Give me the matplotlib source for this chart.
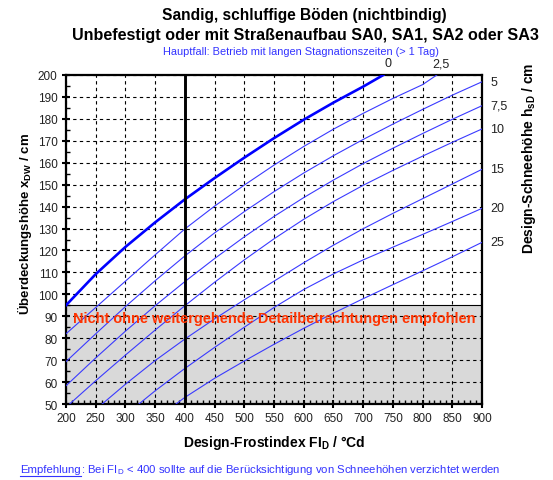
import matplotlib
matplotlib.use("Agg")
import matplotlib.pyplot as plt
from matplotlib.lines import Line2D
from matplotlib.ticker import MultipleLocator

plt.rcParams['font.family'] = ['Liberation Sans', 'DejaVu Sans']
plt.rcParams['mathtext.fontset'] = 'custom'
plt.rcParams['mathtext.rm'] = 'Liberation Sans'
plt.rcParams['mathtext.bf'] = 'Liberation Sans:bold'

# snow depth curves (label, FI values, cover depth values)
snow_labels = ["0", "2,5", "5", "7,5", "10", "15", "20", "25"]
fi_0 = [200, 250, 300, 350, 400, 450, 500, 550, 600, 650, 700, 734]
xdw_0 = [95, 109.2, 121.6, 132.8, 143.3, 153, 162.3, 171.2, 179.6, 187.4, 194.7, 200]
fi_2_5 = [200, 250, 300, 350, 400, 450, 500, 550, 600, 650, 700, 750, 800, 824]
xdw_2_5 = [82, 94, 106, 118, 129.8, 140.2, 149.8, 158.9, 167.4, 175.3, 182.5, 189.3, 195.6, 200]
fi_5 = [200, 250, 300, 350, 400, 450, 500, 550, 600, 650, 700, 750, 800, 850, 900]
xdw_5 = [69.3, 82, 94.4, 106.2, 117.5, 128, 137.7, 146.8, 155.3, 163.2, 170.6, 177.6, 184.3, 190.8, 196.9]
fi_7_5 = [200, 250, 300, 350, 400, 450, 500, 550, 600, 650, 700, 750, 800, 850, 900]
xdw_7_5 = [58.3, 71, 83.2, 94.8, 105.8, 116.3, 126.2, 135.5, 144.1, 152.1, 159.6, 166.6, 173.3, 179.8, 186]
fi_10 = [200, 250, 300, 350, 400, 450, 500, 550, 600, 650, 700, 750, 800, 850, 900]
xdw_10 = [48.5, 60.6, 72.3, 83.7, 94.8, 105.5, 115.7, 125.3, 134.2, 142.3, 149.7, 156.5, 163, 169.3, 175.4]
fi_15 = [250, 300, 350, 400, 450, 500, 550, 600, 650, 700, 750, 800, 850, 900]
xdw_15 = [47.5, 59, 69.8, 79.6, 88.8, 97.5, 106, 114.4, 122.4, 129.9, 136.9, 143.6, 150.3, 157]
fi_20 = [300, 350, 400, 450, 500, 550, 600, 650, 700, 750, 800, 850, 900]
xdw_20 = [45, 56, 66.2, 75.8, 85, 94, 102.2, 109.3, 115.7, 121.5, 127.3, 133.2, 139.2]
fi_25 = [350, 400, 450, 500, 550, 600, 650, 700, 750, 800, 850, 900]
xdw_25 = [43, 53, 61.7, 69.6, 77.2, 84.5, 91.4, 98, 104.4, 110.7, 117.1, 123.7]

curves = [(fi_0, xdw_0), (fi_2_5, xdw_2_5), (fi_5, xdw_5), (fi_7_5, xdw_7_5),
          (fi_10, xdw_10), (fi_15, xdw_15), (fi_20, xdw_20), (fi_25, xdw_25)]

fi_limit = 400
xdw_limit = 95

fig = plt.figure(figsize=(5.53, 4.81), dpi=100)
ax = fig.add_axes([0.1193, 0.158, 0.7523, 0.684])
ax.set_xlim(200, 900)
ax.set_ylim(50, 200)

# area that needs further investigation
ax.axhspan(50, xdw_limit, facecolor='#d9d9d9', edgecolor='none', zorder=0)
ax.axhline(xdw_limit, color='black', lw=0.8, zorder=1)
ax.text(212, 89.3, "Nicht ohne weitergehende Detailbetrachtungen empfohlen",
        color='#ff3300', fontsize=10.45, fontweight='bold', va='center', ha='left', zorder=5)

ax.grid(True, which='major', color='black', linestyle=(0, (3, 3)), lw=0.8, zorder=1)
ax.set_axisbelow(True)

for i, (fx, fy) in enumerate(curves):
    if i == 0:
        ax.plot(fx, fy, color='#0000ff', lw=1.9, zorder=4)
    else:
        ax.plot(fx, fy, color='#3a3aff', lw=0.8, zorder=4)
    if fy[-1] >= 200:
        ax.annotate(snow_labels[i], (fx[-1], 200), xytext=(3, 4), textcoords='offset points',
                    ha='center', va='bottom', fontsize=9, color='#222222', annotation_clip=False)
    else:
        ax.annotate(snow_labels[i], (900, fy[-1]), xytext=(6, 0), textcoords='offset points',
                    ha='left', va='center', fontsize=9, color='#222222', annotation_clip=False)

ax.axvline(fi_limit, color='black', lw=2.1, zorder=4)

ax.xaxis.set_major_locator(MultipleLocator(50))
ax.xaxis.set_minor_locator(MultipleLocator(10))
ax.yaxis.set_major_locator(MultipleLocator(10))
ax.yaxis.set_minor_locator(MultipleLocator(5))
ax.tick_params(which='major', direction='inout', length=6, width=1.5, labelsize=8.5,
               labelcolor='#222222', pad=3)
ax.tick_params(which='minor', direction='in', length=3, width=1)
for s in ax.spines.values():
    s.set_linewidth(1.6)

ax.set_xlabel("Design-Frostindex FI$_\\mathregular{D}$ / °Cd", fontsize=10, fontweight='bold', labelpad=6)
fig.text(0.045, 0.534, "Überdeckungshöhe x$_\\mathregular{DW}$ / cm", rotation=90, fontsize=9.5,
         fontweight='bold', ha='center', va='center')
fig.text(0.956, 0.671, "Design-Schneehöhe h$_\\mathregular{sD}$ / cm", rotation=90, fontsize=10,
         fontweight='bold', ha='center', va='center')

fig.text(0.551, 0.967, "Sandig, schluffige Böden (nichtbindig)", fontsize=11.2,
         fontweight='bold', ha='center', va='center')
fig.text(0.553, 0.926, "Unbefestigt oder mit Straßenaufbau SA0, SA1, SA2 oder SA3", fontsize=11.6,
         fontweight='bold', ha='center', va='center')
fig.text(0.545, 0.891, "Hauptfall: Betrieb mit langen Stagnationszeiten (> 1 Tag)", fontsize=7.9,
         color='#3333ff', ha='center', va='center')

t1 = fig.text(0.036, 0.016, "Empfehlung", fontsize=8.2, color='#3333ff', ha='left', va='baseline')
fig.canvas.draw()
bb = t1.get_window_extent().transformed(fig.transFigure.inverted())
fig.add_artist(Line2D([bb.x0, bb.x1], [bb.y0 - 0.003, bb.y0 - 0.003], color='#3333ff', lw=0.8))
fig.text(bb.x1, 0.016, ": Bei FI$_\\mathregular{D}$ < 400 sollte auf die Berücksichtigung von Schneehöhen verzichtet werden",
         fontsize=8.2, color='#3333ff', ha='left', va='baseline')

fig.savefig("out.png", dpi=100)
